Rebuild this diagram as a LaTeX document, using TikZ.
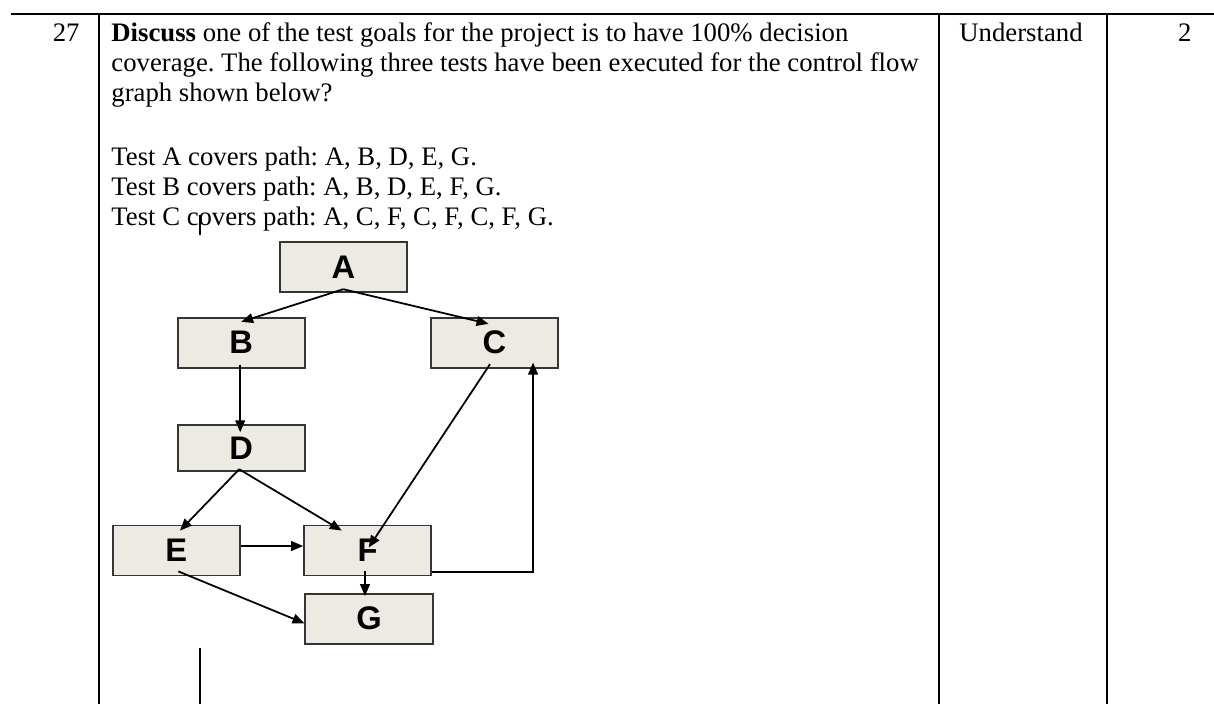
\documentclass[tikz,border=0pt]{standalone}
\usepackage{fontspec}
\setmainfont{Liberation Serif}
\setsansfont{Liberation Sans}
\usetikzlibrary{arrows.meta,calc}
\definecolor{boxfill}{HTML}{ECEAE2}
\definecolor{boxline}{HTML}{353535}
\frenchspacing
\tikzset{
  txt/.style={inner sep=0pt, font=\fontsize{12.1pt}{14pt}\selectfont},
  rule/.style={line width=0.9pt, black},
  caret/.style={line width=0.7pt, black},
  flowbox/.style={draw=boxline, fill=boxfill, line width=0.85pt, inner sep=0pt,
    minimum width=57.6pt, minimum height=22.6pt,
    font=\sffamily\bfseries\fontsize{14.8pt}{16pt}\selectfont},
  arr/.style={line width=0.8pt, black, -{Triangle[length=5.4pt,width=4.4pt]}},
}
\begin{document}
\begin{tikzpicture}[x=0.4528pt, y=-0.4528pt]
  \useasboundingbox (0,0) rectangle (1214,704);

  % table rules
  \draw[rule] (11,14) -- (1214,14);
  \draw[rule] (99,14) -- (99,704);
  \draw[rule] (939,14) -- (939,704);
  \draw[rule] (1107,14) -- (1107,704);

  % row text
  \node[txt, anchor=base east] (num) at (80,41.7) {27};
  \node[txt, anchor=base west] (q1) at (111,41.7) {\textbf{Discuss} one of the test goals for the project is to have 100\% decision};
  \node[txt, anchor=base west] (q2) at (111,71.7) {coverage. The following three tests have been executed for the control flow};
  \node[txt, anchor=base west] (q3) at (111,101.7) {graph shown below?};
  \node[txt, anchor=base west] (ta) at (111,165.7) {Test A covers path: A, B, D, E, G.};
  \node[txt, anchor=base west] (tb) at (111,195.7) {Test B covers path: A, B, D, E, F, G.};
  \node[txt, anchor=base west] (tc) at (111,225.7) {Test C covers path: A, C, F, C, F, C, F, G.};
  \node[txt, anchor=base west] (lvl) at (959,41.7) {Understand};
  \node[txt, anchor=base east] (mk) at (1192,41.7) {2};

  % text carets
  \draw[caret] (200,215) -- (200,235);
  \draw[caret] (200,648) -- (200,704);

  % control flow graph
  \node[flowbox, minimum height=22.9pt] (A) at (343.3,267) {A};
  \node[flowbox] (B) at (241.2,342.7) {B};
  \node[flowbox] (C) at (494.5,342.7) {C};
  \node[flowbox, minimum height=21.1pt] (D) at (241.2,448) {D};
  \node[flowbox] (E) at (176.3,550.5) {E};
  \node[flowbox] (F) at (367.7,550.5) {F};
  \node[flowbox] (G) at (369,618.7) {G};

  \draw[arr] ($(A.south)+(0,-4)$) -- ($(B.north)+(0,5)$);
  \draw[arr] ($(A.south)+(0,-4)$) -- ($(C.north)+(-6,7)$);
  \draw[arr] ($(B.south)+(-1,-4)$) -- ($(D.north)+(-1,8.5)$);
  \draw[arr] ($(C.south)+(-4.5,-4.4)$) -- ($(F.center)+(1,-3)$);
  \draw[arr] ($(F.east)+(0,21.8)$) -| ($(C.south east)+(-26,-6)$);
  \draw[arr] ($(D.south)+(-2,-3)$) -- ($(E.north)+(3.7,6)$);
  \draw[arr] ($(D.south)+(-2,-3)$) -- ($(F.north)+(-26,6)$);
  \draw[arr] ($(E.east)+(0,-4.5)$) -- ($(F.west)+(0,-4.5)$);
  \draw[arr] ($(E.south)+(2,-5)$) -- ($(G.west)+(0,4.6)$);
  \draw[arr] ($(F.south)+(-2.7,-5)$) -- ($(G.north)+(-4,3.3)$);
\end{tikzpicture}
\end{document}
